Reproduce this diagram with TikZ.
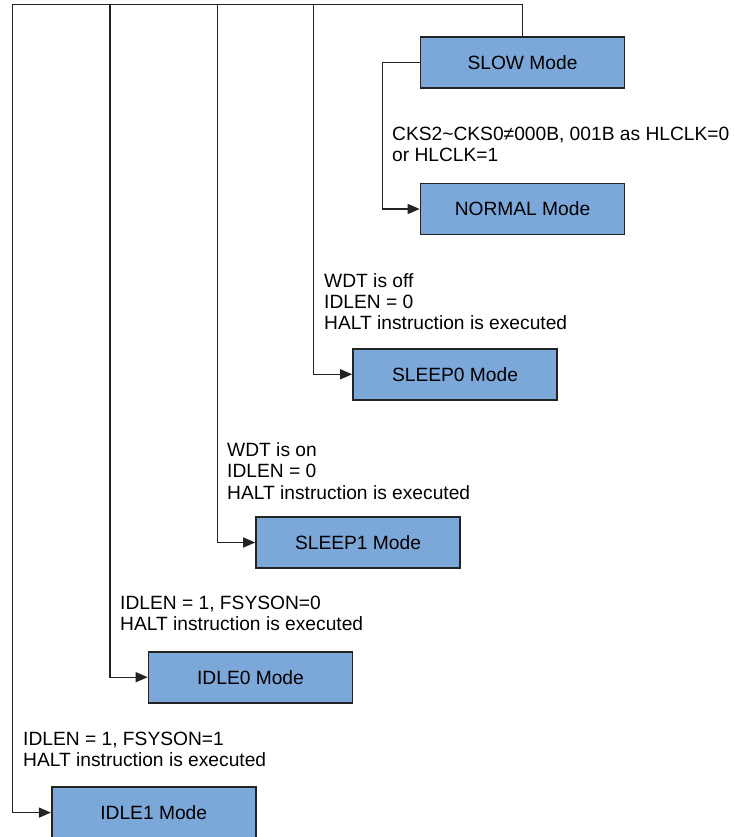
\documentclass[tikz,border=0pt]{standalone}
\usepackage{fontspec}
\setmainfont{Liberation Sans}
\usetikzlibrary{positioning, arrows.meta}
\definecolor{modefill}{RGB}{123,167,217}
\definecolor{modeline}{RGB}{35,35,35}

\begin{document}
\begin{tikzpicture}[x=1pt, y=-1pt,
    mode/.style={draw=modeline, line width=1.6pt, fill=modefill,
                 minimum width=204pt, minimum height=51pt, inner sep=0pt,
                 font=\fontsize{19.2}{21.3}\selectfont},
    cond/.style={anchor=north west, inner sep=0pt, align=left,
                 font=\fontsize{19.2}{21.3}\selectfont},
    wire/.style={draw=modeline, line width=1.4pt},
    go/.style={wire, -{Triangle[length=12pt,width=10pt]}}]
          \useasboundingbox (0,0) rectangle (734,837);

          \node[mode] (slow)   at (522.5,  62.8) {SLOW Mode};
          \node[mode] (normal) at (522.5, 209.0) {NORMAL Mode};
          \node[mode] (sleep0) at (455.0, 374.3) {SLEEP0 Mode};
          \node[mode] (sleep1) at (358.0, 542.5) {SLEEP1 Mode};
          \node[mode] (idle0)  at (250.5, 677.2) {IDLE0 Mode};
          \node[mode] (idle1)  at (153.7, 812.6) {IDLE1 Mode};

          \node[cond] (cks)    at (392, 127.0) {CKS2\char"007E CKS0≠000B, 001B as HLCLK=0\\or HLCLK=1};
          \node[cond] (wdtoff) at (324, 273.0) {WDT is off\\IDLEN = 0\\HALT instruction is executed};
          \node[cond] (wdton)  at (227, 442.5) {WDT is on\\IDLEN = 0\\HALT instruction is executed};
          \node[cond] (fsys0)  at (120, 595.5) {IDLEN = 1, FSYSON=0\\HALT instruction is executed};
          \node[cond] (fsys1)  at (23,  732.0) {IDLEN = 1, FSYSON=1\\HALT instruction is executed};

          \coordinate (b0) at (12.3, 4.5);
          \coordinate (b1) at (110.0, 4.5);
          \coordinate (b2) at (217.5, 4.5);
          \coordinate (b3) at (313.5, 4.5);
          \coordinate (s)  at (382.3, 62.8);

          \draw[wire] (slow.north) |- (b0);
          \draw[go] (b0) |- (idle1.west);
          \draw[go] (b1) |- (idle0.west);
          \draw[go] (b2) |- (sleep1.west);
          \draw[go] (b3) |- (sleep0.west);
          \draw[go] (slow.west) -- (s) |- (normal.west);
        \end{tikzpicture}
\end{document}
